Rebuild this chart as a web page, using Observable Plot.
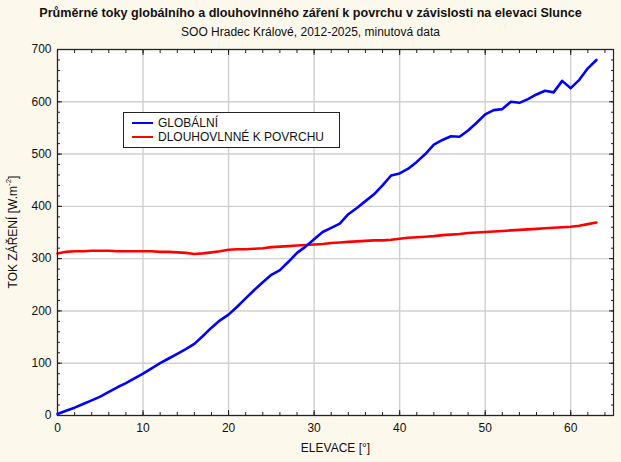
<!DOCTYPE html>
<html>
<head>
<meta charset="utf-8">
<script src="https://cdn.jsdelivr.net/npm/d3@7"></script>
<script src="https://cdn.jsdelivr.net/npm/@observablehq/plot@0.6"></script>
<style>
  html, body { margin: 0; padding: 0; background: #fdf8ec; }
  body { width: 621px; height: 462px; position: relative; overflow: hidden; font-family: "Liberation Sans", Arial, sans-serif; }
  #title { position: absolute; left: 0; width: 621px; top: 6px; text-align: center; font-weight: bold; font-size: 12.6px; color: #111; }
  #subtitle { position: absolute; left: 0; width: 621px; top: 25px; text-align: center; font-size: 12px; color: #111; }
  #chart { position: absolute; left: 0; top: 40px; }
  #legend { position: absolute; left: 123px; top: 112px; width: 215px; height: 34px; border: 1.3px solid #222; background: #fff; font-size: 12px; color: #111; }
  .row { position: absolute; left: 8px; height: 14px; line-height: 14px; }
  .sw { display: inline-block; width: 21px; height: 2.5px; vertical-align: middle; margin-right: 5px; position: relative; top: -1px; }
</style>
</head>
<body>
<div id="title">Průměrné toky globálního a dlouhovlnného záření k povrchu v závislosti na elevaci Slunce</div>
<div id="subtitle">SOO Hradec Králové, 2012-2025, minutová data</div>
<div id="chart"></div>
<div id="legend">
  <div class="row" style="top:3px"><span class="sw" style="background:#0000ff"></span>GLOBÁLNÍ</div>
  <div class="row" style="top:17px"><span class="sw" style="background:#ff0000"></span>DLOUHOVLNNÉ K POVRCHU</div>
</div>
<script>
const elevation = d3.range(0, 64);
const globalni = [3, 9, 15, 22, 29, 36, 45, 54, 62, 71,
  80, 90, 100, 109, 118, 127, 137, 152, 168, 182,
  193, 208, 224, 240, 255, 269, 278, 294, 311, 323,
  337, 351, 359, 367, 385, 397, 410, 423, 440, 459,
  463, 472, 485, 500, 518, 527, 534, 533, 545, 560,
  576, 584, 586, 600, 598, 605, 614, 621, 618, 640,
  626, 642, 664, 680];
const dlouhovlnne = [310, 313, 314, 314, 315, 315, 315, 314, 314, 314,
  314, 314, 313, 313, 312, 311, 309, 310, 312, 314,
  317, 318, 318, 319, 320, 322, 323, 324, 325, 326,
  327, 328, 330, 331, 332, 333, 334, 335, 335, 336,
  338, 340, 341, 342, 343, 345, 346, 347, 349, 350,
  351, 352, 353, 354, 355, 356, 357, 358, 359, 360,
  361, 363, 366, 369];
const xTicks = [0, 10, 20, 30, 40, 50, 60];
const yTicks = [0, 100, 200, 300, 400, 500, 600, 700];
const xMinor = d3.range(0, 65, 2);
const yMinor = d3.range(0, 701, 20);

const dataG = elevation.map((e, i) => ({x: e, y: globalni[i]}));
const dataD = elevation.map((e, i) => ({x: e, y: dlouhovlnne[i]}));

const plot = Plot.plot({
  width: 621,
  height: 422,
  marginTop: 9,
  marginBottom: 47,
  marginLeft: 57,
  marginRight: 8,
  style: {fontFamily: "'Liberation Sans', Arial, sans-serif", fontSize: "12px", background: "transparent", color: "#111"},
  x: {domain: [0, 65]},
  y: {domain: [0, 700]},
  marks: [
    Plot.frame({fill: "#fff", stroke: "none"}),
    Plot.gridX(xTicks, {stroke: "#d0d0d0", strokeOpacity: 1, strokeWidth: 1.4}),
    Plot.gridY(yTicks, {stroke: "#d0d0d0", strokeOpacity: 1, strokeWidth: 1.4}),
    Plot.axisX(xMinor, {anchor: "bottom", tickSize: -3, text: null, label: null, stroke: "#222"}),
    Plot.axisX(xMinor, {anchor: "top", tickSize: -3, text: null, label: null, stroke: "#222"}),
    Plot.axisY(yMinor, {anchor: "left", tickSize: -3, text: null, label: null, stroke: "#222"}),
    Plot.axisY(yMinor, {anchor: "right", tickSize: -3, text: null, label: null, stroke: "#222"}),
    Plot.axisX(xTicks, {anchor: "bottom", tickSize: -5, tickPadding: 13, label: null, stroke: "#222", fill: "#111"}),
    Plot.axisY(yTicks, {anchor: "left", tickSize: -5, tickPadding: 11, label: null, stroke: "#222", fill: "#111"}),
    Plot.axisX(xTicks, {anchor: "top", tickSize: -5, text: null, label: null, stroke: "#222"}),
    Plot.axisY(yTicks, {anchor: "right", tickSize: -5, text: null, label: null, stroke: "#222"}),
    Plot.line(dataD, {x: "x", y: "y", stroke: "#ff0000", strokeWidth: 2.6}),
    Plot.line(dataG, {x: "x", y: "y", stroke: "#0000ff", strokeWidth: 2.6}),
    Plot.frame({stroke: "#222", strokeWidth: 1.2}),
    Plot.text(["ELEVACE [°]"], {frameAnchor: "bottom", dy: 36, fontSize: 12, fill: "#111"})
  ]
});
document.getElementById("chart").appendChild(plot);

// y-axis title with superscript
const svg = d3.select(plot);
const t = svg.append("text")
  .attr("transform", `translate(14,${(9 + 375) / 2 + 0}) rotate(-90)`)
  .attr("text-anchor", "middle")
  .attr("font-size", 12)
  .attr("fill", "#111")
  .attr("font-family", "'Liberation Sans', Arial, sans-serif")
  .attr("dominant-baseline", "middle");
t.append("tspan").text("TOK ZÁŘENÍ [W.m");
t.append("tspan").attr("font-size", 8).attr("dy", -5).text("-2");
t.append("tspan").attr("dy", 5).text("]");
</script>
</body>
</html>
